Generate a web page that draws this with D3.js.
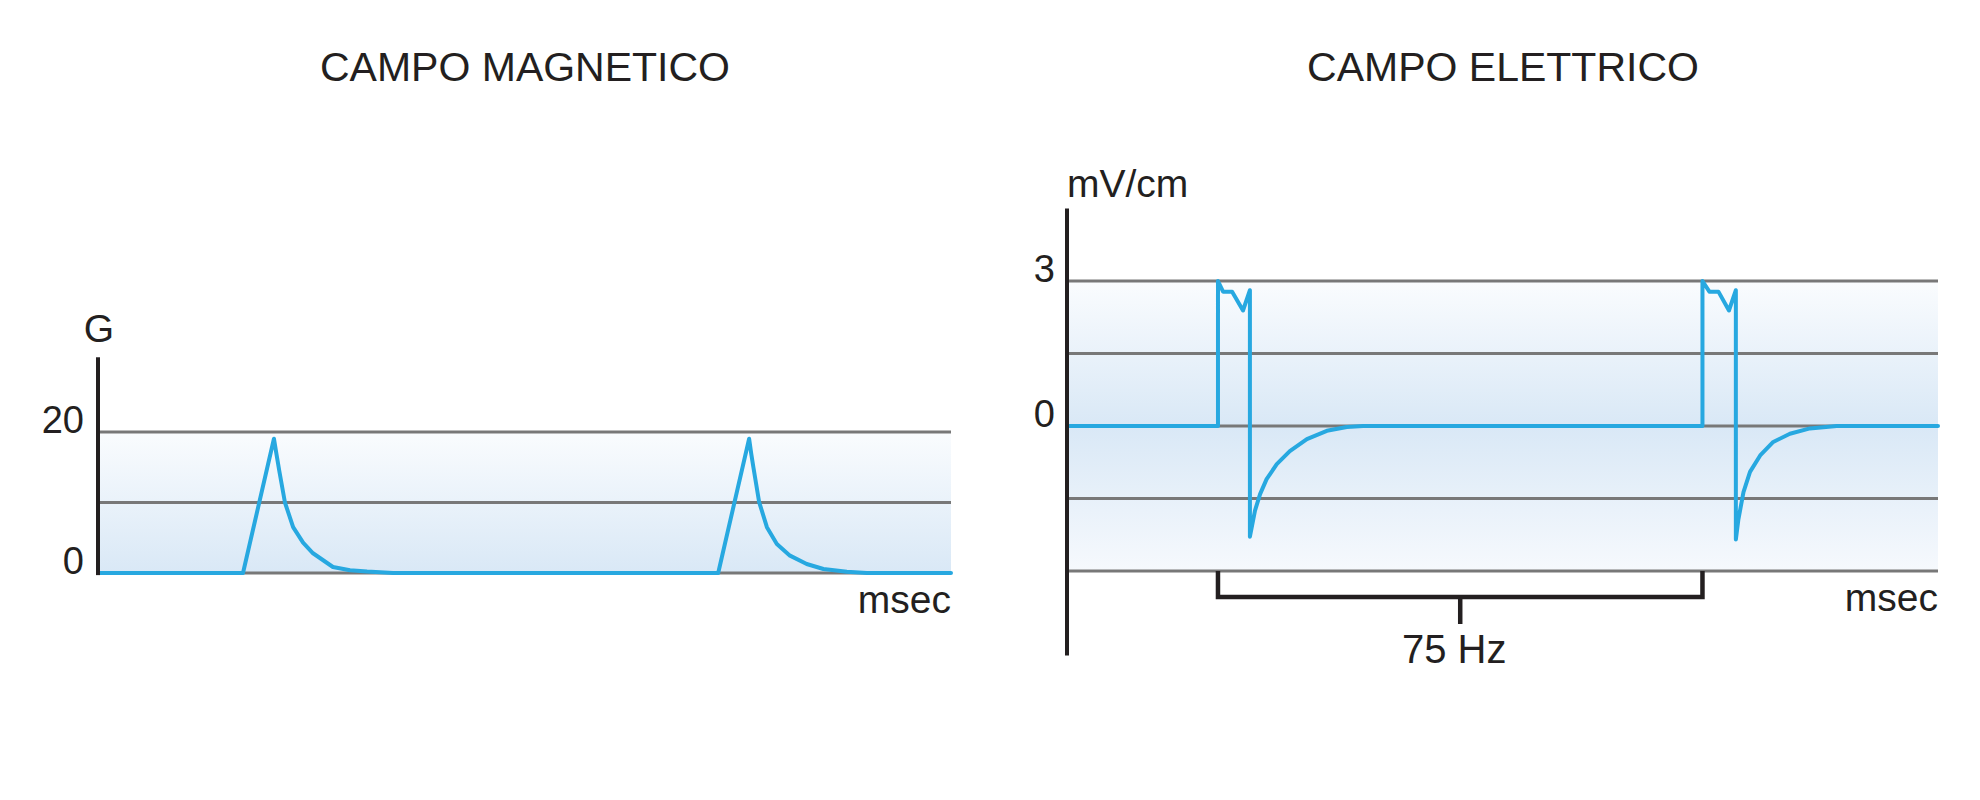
<!DOCTYPE html>
<html><head><meta charset="utf-8">
<script src="https://cdn.jsdelivr.net/npm/d3@7"></script>
<style>
body{margin:0;background:#fff}
text{font-family:"Liberation Sans",Arial,Helvetica,sans-serif;fill:#231f20}
</style>
</head><body>
<svg id="c" width="1980" height="800"></svg>
<script>
// ---- data ----
const titles = ["CAMPO MAGNETICO", "CAMPO ELETTRICO"];
const magUnit = "G";
const elUnit = "mV/cm";
const timeUnit = "msec";
const freqLabel = "75 Hz";
const timeDomain = [0, 24];               // ms
const magTicks = [0, 20];
const magGrid = [0, 10, 20];
const magAxisRange = [-0.3, 30.6];
const elTicks = [0, 3];
const elGrid = [-3, -1.5, 0, 1.5, 3];
const elAxisRange = [-4.75, 4.5];

// magnetic field (G) vs time (ms)
const magTime  = [0, 4.08, 4.95, 5.02, 5.10, 5.26, 5.49, 5.77, 6.05, 6.61, 7.09, 7.57, 8.30,
                  17.45, 18.32, 18.38, 18.44, 18.60, 18.82, 19.10, 19.47, 19.94, 20.41, 21.07, 21.63, 24];
const magValue = [0, 0, 19.05, 16.9, 14.5, 10.0, 6.5, 4.3, 2.8, 0.85, 0.4, 0.2, 0,
                  0, 19.05, 16.9, 15.0, 10.1, 6.5, 4.1, 2.46, 1.28, 0.57, 0.18, 0, 0];

// electric field (mV/cm) vs time (ms)
const elTime  = [0, 4.16, 4.16, 4.30, 4.55, 4.85, 5.04, 5.04, 5.18, 5.32, 5.50, 5.78, 6.14, 6.61, 7.16, 7.71, 8.16,
                 17.51, 17.51, 17.70, 17.95, 18.24, 18.43, 18.43, 18.50, 18.64, 18.82, 19.10, 19.46, 19.92, 20.47, 21.21, 24];
const elValue = [0, 0, 3.0, 2.78, 2.78, 2.39, 2.81, -2.29, -1.75, -1.41, -1.10, -0.79, -0.52, -0.27, -0.10, -0.02, 0,
                 0, 3.0, 2.78, 2.78, 2.39, 2.81, -2.35, -1.93, -1.37, -0.95, -0.61, -0.33, -0.16, -0.05, 0, 0];

// period bracket (ms) – start of the two pulses
const bracketTimes = [4.16, 17.51];

// ---- drawing ----
const svg = d3.select("#c");
const blue = "#27a8e0", grid = "#787878", ink = "#231f20";

const defs = svg.append("defs");
const g1 = defs.append("linearGradient").attr("id","gMag").attr("x1",0).attr("y1",0).attr("x2",0).attr("y2",1);
g1.append("stop").attr("offset","0%").attr("stop-color","#fafcfe");
g1.append("stop").attr("offset","100%").attr("stop-color","#d9e8f6");
const g2 = defs.append("linearGradient").attr("id","gEl").attr("x1",0).attr("y1",0).attr("x2",0).attr("y2",1);
g2.append("stop").attr("offset","0%").attr("stop-color","#fafcfe");
g2.append("stop").attr("offset","50%").attr("stop-color","#d9e8f6");
g2.append("stop").attr("offset","100%").attr("stop-color","#f6f9fd");

function panel(opt) {
  const x = d3.scaleLinear().domain(timeDomain).range(opt.xRange);
  const y = d3.scaleLinear().domain(opt.yDomain).range(opt.yRange);
  const g = svg.append("g");
  const gMin = d3.min(opt.grid), gMax = d3.max(opt.grid);

  g.append("rect")
    .attr("x", x(timeDomain[0])).attr("width", x(timeDomain[1]) - x(timeDomain[0]))
    .attr("y", y(gMax)).attr("height", y(gMin) - y(gMax))
    .attr("fill", `url(#${opt.grad})`);

  g.selectAll("line.grid").data(opt.grid).join("line").attr("class","grid")
    .attr("x1", x(timeDomain[0])).attr("x2", x(timeDomain[1]))
    .attr("y1", d => y(d)).attr("y2", d => y(d))
    .attr("stroke", grid).attr("stroke-width", 3);

  const line = d3.line().x(d => x(d[0])).y(d => y(d[1])).curve(d3.curveLinear);
  g.append("path").datum(d3.zip(opt.t, opt.v))
    .attr("d", line).attr("fill","none").attr("stroke", blue)
    .attr("stroke-width", 4).attr("stroke-linejoin","round").attr("stroke-linecap","round");

  // vertical axis line
  g.append("line")
    .attr("x1", x(timeDomain[0])).attr("x2", x(timeDomain[0]))
    .attr("y1", y(opt.axisRange[1])).attr("y2", y(opt.axisRange[0]))
    .attr("stroke", ink).attr("stroke-width", 4);

  // tick labels
  const ax = g.append("g").attr("transform", `translate(${x(timeDomain[0])},0)`)
    .call(d3.axisLeft(y).tickValues(opt.ticks).tickSize(0).tickPadding(opt.pad).tickFormat(d3.format("d")));
  ax.select(".domain").remove();
  ax.selectAll("text").attr("dy", "0").attr("font-size", 38)
    .style("font-family", '"Liberation Sans",Arial,sans-serif').attr("fill", ink);

  // title
  svg.append("text").attr("x", opt.titleX).attr("y", 81).attr("text-anchor","middle")
    .attr("font-size", 41).text(opt.title);
  // unit label
  svg.append("text").attr("x", x(timeDomain[0]) + opt.unitDx).attr("y", y(opt.axisRange[1]) - opt.unitGap)
    .attr("text-anchor", opt.unitAnchor).attr("font-size", 39).text(opt.unit);
  // time unit
  svg.append("text").attr("x", x(timeDomain[1])).attr("y", y(gMin) + 40)
    .attr("text-anchor","end").attr("font-size", 39).text(timeUnit);
  return {x, y, g};
}

panel({title: titles[0], titleX: 525, xRange: [98, 951], yDomain: [0, 20], yRange: [573, 432],
  grid: magGrid, ticks: magTicks, grad: "gMag", t: magTime, v: magValue, axisRange: magAxisRange,
  pad: 14, unit: magUnit, unitDx: 1, unitGap: 15, unitAnchor: "middle"});

const el = panel({title: titles[1], titleX: 1503, xRange: [1067, 1938], yDomain: [-3, 3], yRange: [571, 281],
  grid: elGrid, ticks: elTicks, grad: "gEl", t: elTime, v: elValue, axisRange: elAxisRange,
  pad: 12, unit: elUnit, unitDx: 0, unitGap: 12, unitAnchor: "start"});

// 75 Hz bracket
const bx0 = el.x(bracketTimes[0]), bx1 = el.x(bracketTimes[1]);
const by0 = el.y(-3), by1 = by0 + 26, bmid = (bx0 + bx1) / 2;
el.g.append("path")
  .attr("d", `M${bx0},${by0}V${by1}H${bx1}V${by0}M${bmid},${by1}V${by1 + 27}`)
  .attr("fill","none").attr("stroke", ink).attr("stroke-width", 4.5);
svg.append("text").attr("x", bmid - 6).attr("y", by1 + 66).attr("text-anchor","middle")
  .attr("font-size", 40).text(freqLabel);
</script>
</body></html>
